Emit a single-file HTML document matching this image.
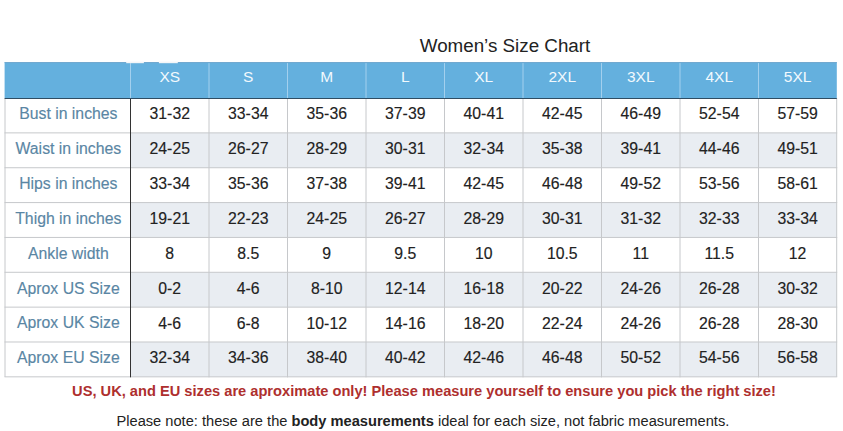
<!DOCTYPE html>
<html><head><meta charset="utf-8"><style>
html,body{margin:0;padding:0;background:#fff;}
body{width:843px;height:431px;overflow:hidden;position:relative;font-family:"Liberation Sans",sans-serif;}
svg{position:absolute;left:0;top:0;}
.t{position:absolute;display:flex;align-items:center;justify-content:center;white-space:nowrap;height:20px;-webkit-text-stroke:0.25px currentColor;}
.t span{display:block;}
.h{color:#f2f9fd;font-size:15.5px;-webkit-text-stroke:0;}
.l{color:#5a86a4;font-size:15.8px;-webkit-text-stroke:0.15px currentColor;}
.d{color:#222;font-size:15.8px;-webkit-text-stroke:0.15px currentColor;}
</style></head><body>

<svg width="843" height="431" viewBox="0 0 843 431" shape-rendering="geometricPrecision">
<rect x="4.6" y="62.1" width="832.2" height="35.9" fill="#64b0de"/>
<rect x="4.6" y="62.1" width="832.2" height="1" fill="#72a8cf"/>
<rect x="130.5" y="132.89" width="706.2" height="34.85" fill="#e9edf2"/>
<rect x="130.5" y="202.59" width="706.2" height="34.85" fill="#e9edf2"/>
<rect x="130.5" y="272.29" width="706.2" height="34.85" fill="#e9edf2"/>
<rect x="130.5" y="341.99" width="706.2" height="34.85" fill="#e9edf2"/>
<line x1="4.5" x2="837.2" y1="132.89" y2="132.89" stroke="#c6c8cb" stroke-width="1"/>
<line x1="4.5" x2="837.2" y1="167.74" y2="167.74" stroke="#c6c8cb" stroke-width="1"/>
<line x1="4.5" x2="837.2" y1="202.59" y2="202.59" stroke="#c6c8cb" stroke-width="1"/>
<line x1="4.5" x2="837.2" y1="237.44" y2="237.44" stroke="#c6c8cb" stroke-width="1"/>
<line x1="4.5" x2="837.2" y1="272.29" y2="272.29" stroke="#c6c8cb" stroke-width="1"/>
<line x1="4.5" x2="837.2" y1="307.14" y2="307.14" stroke="#c6c8cb" stroke-width="1"/>
<line x1="4.5" x2="837.2" y1="341.99" y2="341.99" stroke="#c6c8cb" stroke-width="1"/>
<line x1="4.5" x2="837.2" y1="376.84" y2="376.84" stroke="#c6c8cb" stroke-width="1"/>
<line x1="5" x2="5" y1="98" y2="376.84" stroke="#c6c8cb" stroke-width="1"/>
<line x1="836.7" x2="836.7" y1="98" y2="376.84" stroke="#c6c8cb" stroke-width="1"/>
<line x1="130.5" x2="130.5" y1="98" y2="377.34" stroke="#333333" stroke-width="1"/>
<line x1="209" x2="209" y1="98" y2="377.34" stroke="#c6c8cb" stroke-width="1"/>
<line x1="287.5" x2="287.5" y1="98" y2="377.34" stroke="#c6c8cb" stroke-width="1"/>
<line x1="366" x2="366" y1="98" y2="377.34" stroke="#c6c8cb" stroke-width="1"/>
<line x1="444.5" x2="444.5" y1="98" y2="377.34" stroke="#c6c8cb" stroke-width="1"/>
<line x1="523" x2="523" y1="98" y2="377.34" stroke="#c6c8cb" stroke-width="1"/>
<line x1="601.5" x2="601.5" y1="98" y2="377.34" stroke="#c6c8cb" stroke-width="1"/>
<line x1="680" x2="680" y1="98" y2="377.34" stroke="#c6c8cb" stroke-width="1"/>
<line x1="758.5" x2="758.5" y1="98" y2="377.34" stroke="#c6c8cb" stroke-width="1"/>
<line x1="130.5" x2="130.5" y1="63.1" y2="98" stroke="#a3d0ee" stroke-width="1"/>
<line x1="209" x2="209" y1="63.1" y2="98" stroke="#a3d0ee" stroke-width="1"/>
<line x1="287.5" x2="287.5" y1="63.1" y2="98" stroke="#a3d0ee" stroke-width="1"/>
<line x1="366" x2="366" y1="63.1" y2="98" stroke="#a3d0ee" stroke-width="1"/>
<line x1="444.5" x2="444.5" y1="63.1" y2="98" stroke="#a3d0ee" stroke-width="1"/>
<line x1="523" x2="523" y1="63.1" y2="98" stroke="#a3d0ee" stroke-width="1"/>
<line x1="601.5" x2="601.5" y1="63.1" y2="98" stroke="#a3d0ee" stroke-width="1"/>
<line x1="680" x2="680" y1="63.1" y2="98" stroke="#a3d0ee" stroke-width="1"/>
<line x1="758.5" x2="758.5" y1="63.1" y2="98" stroke="#a3d0ee" stroke-width="1"/>
<rect x="4.6" y="98" width="832.2" height="1" fill="#2f4d63"/>
<rect x="126.2" y="61.6" width="17.7" height="1.6" fill="#f4f6f8"/>
<rect x="158.9" y="61.6" width="18.9" height="1.6" fill="#f4f6f8"/>
</svg>
<div class="t" style="left:330px;top:36.0px;width:350px;font-size:18.8px;color:#222;-webkit-text-stroke:0;">Women&#8217;s Size Chart</div>
<div class="t h" style="left:130.5px;top:67.1px;width:78.5px;"><span>XS</span></div>
<div class="t h" style="left:209px;top:67.1px;width:78.5px;"><span>S</span></div>
<div class="t h" style="left:287.5px;top:67.1px;width:78.5px;"><span>M</span></div>
<div class="t h" style="left:366px;top:67.1px;width:78.5px;"><span>L</span></div>
<div class="t h" style="left:444.5px;top:67.1px;width:78.5px;"><span>XL</span></div>
<div class="t h" style="left:523px;top:67.1px;width:78.5px;"><span>2XL</span></div>
<div class="t h" style="left:601.5px;top:67.1px;width:78.5px;"><span>3XL</span></div>
<div class="t h" style="left:680px;top:67.1px;width:78.5px;"><span>4XL</span></div>
<div class="t h" style="left:758.5px;top:67.1px;width:78.2px;"><span>5XL</span></div>
<div class="t l" style="left:5.6px;top:104.25px;width:125.5px;"><span>Bust in inches</span></div>
<div class="t d" style="left:130.5px;top:104.4px;width:78.5px;"><span>31-32</span></div>
<div class="t d" style="left:209px;top:104.4px;width:78.5px;"><span>33-34</span></div>
<div class="t d" style="left:287.5px;top:104.4px;width:78.5px;"><span>35-36</span></div>
<div class="t d" style="left:366px;top:104.4px;width:78.5px;"><span>37-39</span></div>
<div class="t d" style="left:444.5px;top:104.4px;width:78.5px;"><span>40-41</span></div>
<div class="t d" style="left:523px;top:104.4px;width:78.5px;"><span>42-45</span></div>
<div class="t d" style="left:601.5px;top:104.4px;width:78.5px;"><span>46-49</span></div>
<div class="t d" style="left:680px;top:104.4px;width:78.5px;"><span>52-54</span></div>
<div class="t d" style="left:758.5px;top:104.4px;width:78.2px;"><span>57-59</span></div>
<div class="t l" style="left:5.6px;top:139.11px;width:125.5px;"><span>Waist in inches</span></div>
<div class="t d" style="left:130.5px;top:139.26px;width:78.5px;"><span>24-25</span></div>
<div class="t d" style="left:209px;top:139.26px;width:78.5px;"><span>26-27</span></div>
<div class="t d" style="left:287.5px;top:139.26px;width:78.5px;"><span>28-29</span></div>
<div class="t d" style="left:366px;top:139.26px;width:78.5px;"><span>30-31</span></div>
<div class="t d" style="left:444.5px;top:139.26px;width:78.5px;"><span>32-34</span></div>
<div class="t d" style="left:523px;top:139.26px;width:78.5px;"><span>35-38</span></div>
<div class="t d" style="left:601.5px;top:139.26px;width:78.5px;"><span>39-41</span></div>
<div class="t d" style="left:680px;top:139.26px;width:78.5px;"><span>44-46</span></div>
<div class="t d" style="left:758.5px;top:139.26px;width:78.2px;"><span>49-51</span></div>
<div class="t l" style="left:5.6px;top:173.97px;width:125.5px;"><span>Hips in inches</span></div>
<div class="t d" style="left:130.5px;top:174.12px;width:78.5px;"><span>33-34</span></div>
<div class="t d" style="left:209px;top:174.12px;width:78.5px;"><span>35-36</span></div>
<div class="t d" style="left:287.5px;top:174.12px;width:78.5px;"><span>37-38</span></div>
<div class="t d" style="left:366px;top:174.12px;width:78.5px;"><span>39-41</span></div>
<div class="t d" style="left:444.5px;top:174.12px;width:78.5px;"><span>42-45</span></div>
<div class="t d" style="left:523px;top:174.12px;width:78.5px;"><span>46-48</span></div>
<div class="t d" style="left:601.5px;top:174.12px;width:78.5px;"><span>49-52</span></div>
<div class="t d" style="left:680px;top:174.12px;width:78.5px;"><span>53-56</span></div>
<div class="t d" style="left:758.5px;top:174.12px;width:78.2px;"><span>58-61</span></div>
<div class="t l" style="left:5.6px;top:208.83px;width:125.5px;"><span>Thigh in inches</span></div>
<div class="t d" style="left:130.5px;top:208.98px;width:78.5px;"><span>19-21</span></div>
<div class="t d" style="left:209px;top:208.98px;width:78.5px;"><span>22-23</span></div>
<div class="t d" style="left:287.5px;top:208.98px;width:78.5px;"><span>24-25</span></div>
<div class="t d" style="left:366px;top:208.98px;width:78.5px;"><span>26-27</span></div>
<div class="t d" style="left:444.5px;top:208.98px;width:78.5px;"><span>28-29</span></div>
<div class="t d" style="left:523px;top:208.98px;width:78.5px;"><span>30-31</span></div>
<div class="t d" style="left:601.5px;top:208.98px;width:78.5px;"><span>31-32</span></div>
<div class="t d" style="left:680px;top:208.98px;width:78.5px;"><span>32-33</span></div>
<div class="t d" style="left:758.5px;top:208.98px;width:78.2px;"><span>33-34</span></div>
<div class="t l" style="left:5.6px;top:243.69px;width:125.5px;"><span>Ankle width</span></div>
<div class="t d" style="left:130.5px;top:243.84px;width:78.5px;"><span>8</span></div>
<div class="t d" style="left:209px;top:243.84px;width:78.5px;"><span>8.5</span></div>
<div class="t d" style="left:287.5px;top:243.84px;width:78.5px;"><span>9</span></div>
<div class="t d" style="left:366px;top:243.84px;width:78.5px;"><span>9.5</span></div>
<div class="t d" style="left:444.5px;top:243.84px;width:78.5px;"><span>10</span></div>
<div class="t d" style="left:523px;top:243.84px;width:78.5px;"><span>10.5</span></div>
<div class="t d" style="left:601.5px;top:243.84px;width:78.5px;"><span>11</span></div>
<div class="t d" style="left:680px;top:243.84px;width:78.5px;"><span>11.5</span></div>
<div class="t d" style="left:758.5px;top:243.84px;width:78.2px;"><span>12</span></div>
<div class="t l" style="left:5.6px;top:278.55px;width:125.5px;"><span>Aprox US Size</span></div>
<div class="t d" style="left:130.5px;top:278.7px;width:78.5px;"><span>0-2</span></div>
<div class="t d" style="left:209px;top:278.7px;width:78.5px;"><span>4-6</span></div>
<div class="t d" style="left:287.5px;top:278.7px;width:78.5px;"><span>8-10</span></div>
<div class="t d" style="left:366px;top:278.7px;width:78.5px;"><span>12-14</span></div>
<div class="t d" style="left:444.5px;top:278.7px;width:78.5px;"><span>16-18</span></div>
<div class="t d" style="left:523px;top:278.7px;width:78.5px;"><span>20-22</span></div>
<div class="t d" style="left:601.5px;top:278.7px;width:78.5px;"><span>24-26</span></div>
<div class="t d" style="left:680px;top:278.7px;width:78.5px;"><span>26-28</span></div>
<div class="t d" style="left:758.5px;top:278.7px;width:78.2px;"><span>30-32</span></div>
<div class="t l" style="left:5.6px;top:313.41px;width:125.5px;"><span>Aprox UK Size</span></div>
<div class="t d" style="left:130.5px;top:313.56px;width:78.5px;"><span>4-6</span></div>
<div class="t d" style="left:209px;top:313.56px;width:78.5px;"><span>6-8</span></div>
<div class="t d" style="left:287.5px;top:313.56px;width:78.5px;"><span>10-12</span></div>
<div class="t d" style="left:366px;top:313.56px;width:78.5px;"><span>14-16</span></div>
<div class="t d" style="left:444.5px;top:313.56px;width:78.5px;"><span>18-20</span></div>
<div class="t d" style="left:523px;top:313.56px;width:78.5px;"><span>22-24</span></div>
<div class="t d" style="left:601.5px;top:313.56px;width:78.5px;"><span>24-26</span></div>
<div class="t d" style="left:680px;top:313.56px;width:78.5px;"><span>26-28</span></div>
<div class="t d" style="left:758.5px;top:313.56px;width:78.2px;"><span>28-30</span></div>
<div class="t l" style="left:5.6px;top:348.27px;width:125.5px;"><span>Aprox EU Size</span></div>
<div class="t d" style="left:130.5px;top:348.42px;width:78.5px;"><span>32-34</span></div>
<div class="t d" style="left:209px;top:348.42px;width:78.5px;"><span>34-36</span></div>
<div class="t d" style="left:287.5px;top:348.42px;width:78.5px;"><span>38-40</span></div>
<div class="t d" style="left:366px;top:348.42px;width:78.5px;"><span>40-42</span></div>
<div class="t d" style="left:444.5px;top:348.42px;width:78.5px;"><span>42-46</span></div>
<div class="t d" style="left:523px;top:348.42px;width:78.5px;"><span>46-48</span></div>
<div class="t d" style="left:601.5px;top:348.42px;width:78.5px;"><span>50-52</span></div>
<div class="t d" style="left:680px;top:348.42px;width:78.5px;"><span>54-56</span></div>
<div class="t d" style="left:758.5px;top:348.42px;width:78.2px;"><span>56-58</span></div>
<div class="t" style="left:2.5px;top:380.6px;width:843px;font-size:14.65px;font-weight:bold;color:#ae2f2e;-webkit-text-stroke:0;">US, UK, and EU sizes are aproximate only! Please measure yourself to ensure you pick the right size!</div>
<div class="t" style="left:1.4px;top:411.3px;width:843px;font-size:14.65px;color:#222;-webkit-text-stroke:0;">Please note: these are the&nbsp;<b>body measurements</b>&nbsp;ideal for each size, not fabric measurements.</div>
</body></html>
